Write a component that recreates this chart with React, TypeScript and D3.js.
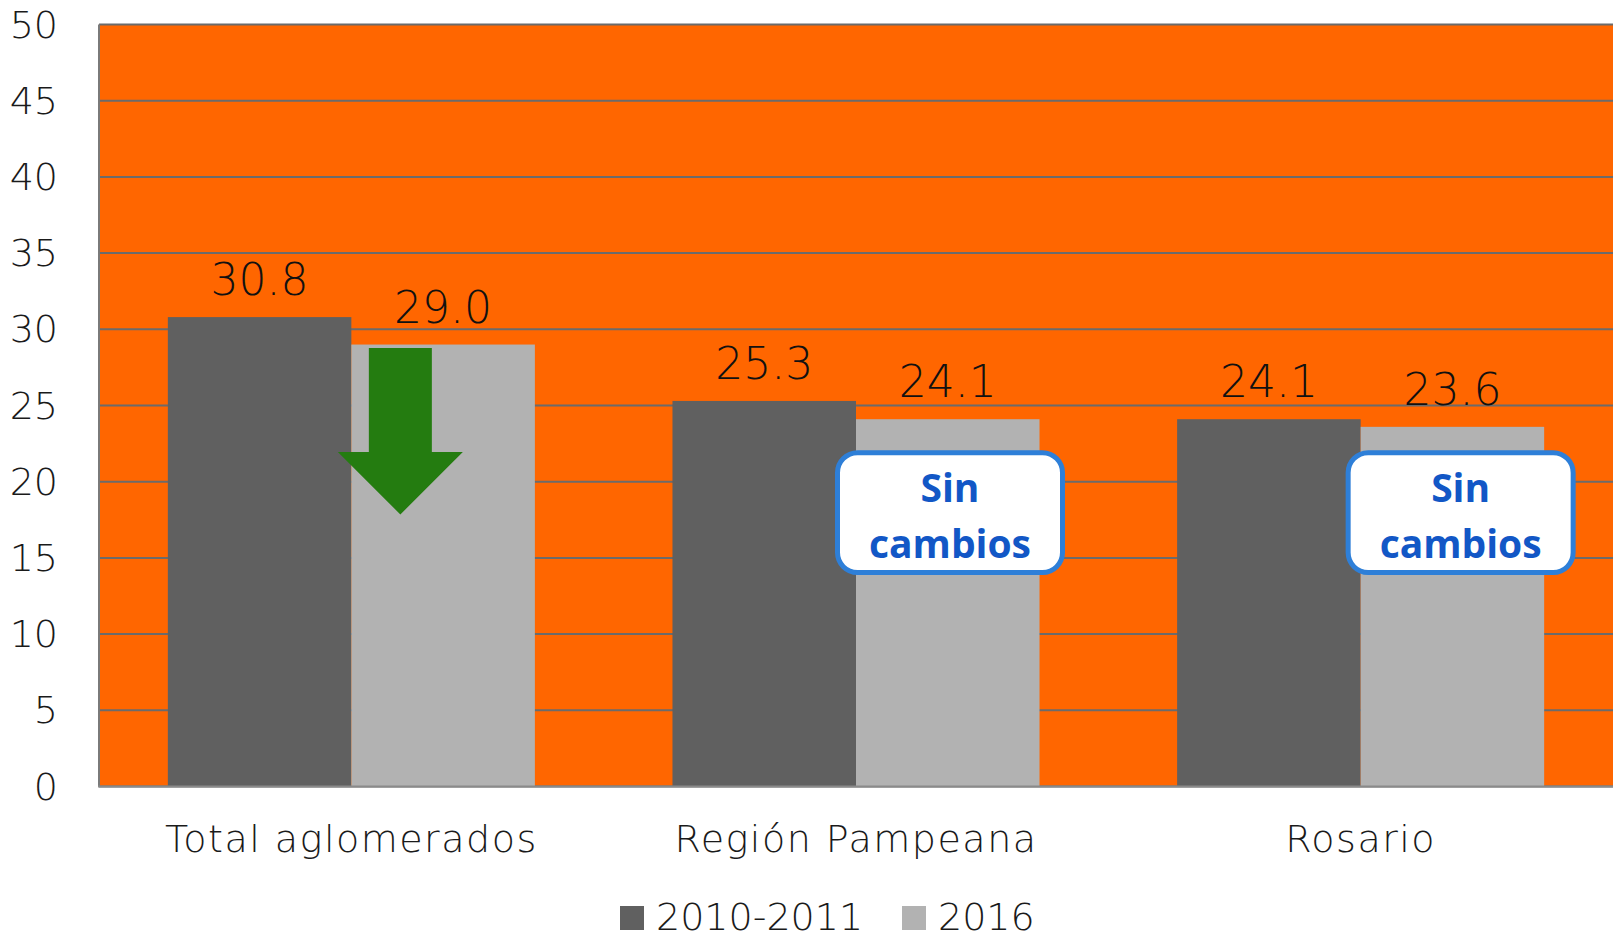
import React from "react";
import * as d3 from "d3";

const categories = ["Total aglomerados", "Región Pampeana", "Rosario"];
const seriesNames = ["2010-2011", "2016"];
const values2010 = [30.8, 25.3, 24.1];
const values2016 = [29.0, 24.1, 23.6];
const yTicks = [0, 5, 10, 15, 20, 25, 30, 35, 40, 45, 50];
const seriesColors = ["#606060", "#b2b2b2"];
const annotations = [
  { category: "Región Pampeana", text: ["Sin", "cambios"] },
  { category: "Rosario", text: ["Sin", "cambios"] },
];

const W = 1613;
const H = 935;
const FONT = "'DejaVu Sans', sans-serif";

export default function App() {
  const x = d3
    .scaleBand<string>()
    .domain(categories)
    .range([99, 1613])
    .paddingInner(0.2727)
    .paddingOuter(0.1364);
  const xs = d3.scaleBand<string>().domain(seriesNames).range([0, x.bandwidth()]);
  const y = d3.scaleLinear().domain([0, 50]).range([786.5, 24.5]);
  const series = [values2010, values2016];
  const fmt = d3.format(".1f");

  const boxOffsets = [-21, -15];

  // Arrow on first category 2016 bar
  const ab = (x(categories[0]) ?? 0) + (xs(seriesNames[1]) ?? 0);
  const ac = ab + 49;
  const arrowPts: [number, number][] = [
    [ac - 31.5, y(28.77)],
    [ac + 31.5, y(28.77)],
    [ac + 31.5, y(21.95)],
    [ac + 62.5, y(21.95)],
    [ac, y(17.85)],
    [ac - 62.5, y(21.95)],
    [ac - 31.5, y(21.95)],
  ];

  return (
    <svg
      width={W}
      height={H}
      style={{ position: "absolute", left: 0, top: 0, display: "block", background: "#fff" }}
    >
      <rect x={99} y={y(50)} width={1613 - 99} height={y(0) - y(50)} fill="#FF6600" />
      {yTicks.map((t) => (
        <line key={t} x1={99} x2={1613} y1={y(t)} y2={y(t)} stroke="#6b6b6b" strokeWidth={2} />
      ))}
      {yTicks.map((t) => (
        <text
          key={"l" + t}
          x={58}
          y={y(t)}
          textAnchor="end"
          dominantBaseline="central"
          fontFamily={FONT}
          fontWeight={200}
          fontSize={38}
          fill="#1a1a1a"
        >
          {t}
        </text>
      ))}
      {categories.map((c, i) =>
        series.map((vals, s) => {
          const bx = (x(c) ?? 0) + (xs(seriesNames[s]) ?? 0);
          return (
            <g key={c + s}>
              <rect
                x={bx}
                y={y(vals[i])}
                width={xs.bandwidth()}
                height={y(0) - y(vals[i])}
                fill={seriesColors[s]}
              />
              <text
                x={bx + xs.bandwidth() / 2}
                y={y(vals[i]) - 22}
                textAnchor="middle"
                fontFamily={FONT}
                fontWeight={200}
                fontSize={44}
                fill="#111"
              >
                {fmt(vals[i])}
              </text>
            </g>
          );
        })
      )}
      <line x1={99} x2={99} y1={y(50)} y2={y(0)} stroke="#7a7a7a" strokeWidth={2} />
      <line x1={98} x2={1613} y1={y(0)} y2={y(0)} stroke="#8a8a8a" strokeWidth={2} />
      {categories.map((c) => (
        <text
          key={"c" + c}
          x={(x(c) ?? 0) + x.bandwidth() / 2}
          y={852}
          textAnchor="middle"
          fontFamily={FONT}
          fontWeight={200}
          fontSize={38}
          letterSpacing={1.5}
          fill="#1a1a1a"
        >
          {c}
        </text>
      ))}
      <polygon points={arrowPts.map((p) => p.join(",")).join(" ")} fill="#247c10" />
      {annotations.map((a, i) => {
        const bx = (x(a.category) ?? 0) + (xs(seriesNames[1]) ?? 0) + boxOffsets[i];
        const top = y(22.07);
        const bot = y(13.87);
        return (
          <g key={"a" + i}>
            <rect
              x={bx + 2.5}
              y={top + 2.5}
              width={225}
              height={bot - top - 5}
              rx={20}
              fill="#fff"
              stroke="#2e7fd8"
              strokeWidth={5}
            />
            {a.text.map((t, j) => (
              <text
                key={j}
                x={bx + 115}
                y={top + 51.5 + j * 56.6}
                textAnchor="middle"
                fontFamily="'Open Sans', 'Noto Sans', sans-serif"
                fontWeight={700}
                fontSize={39}
                fill="#1257c6"
              >
                {t}
              </text>
            ))}
          </g>
        );
      })}
      {seriesNames.map((s, i) => {
        const lx = [620, 902][i];
        return (
          <g key={"lg" + s}>
            <rect x={lx} y={906} width={24} height={24} fill={seriesColors[i]} />
            <text
              x={lx + 36}
              y={930}
              fontFamily={FONT}
              fontWeight={200}
              fontSize={38}
              fill="#1a1a1a"
            >
              {s}
            </text>
          </g>
        );
      })}
    </svg>
  );
}
